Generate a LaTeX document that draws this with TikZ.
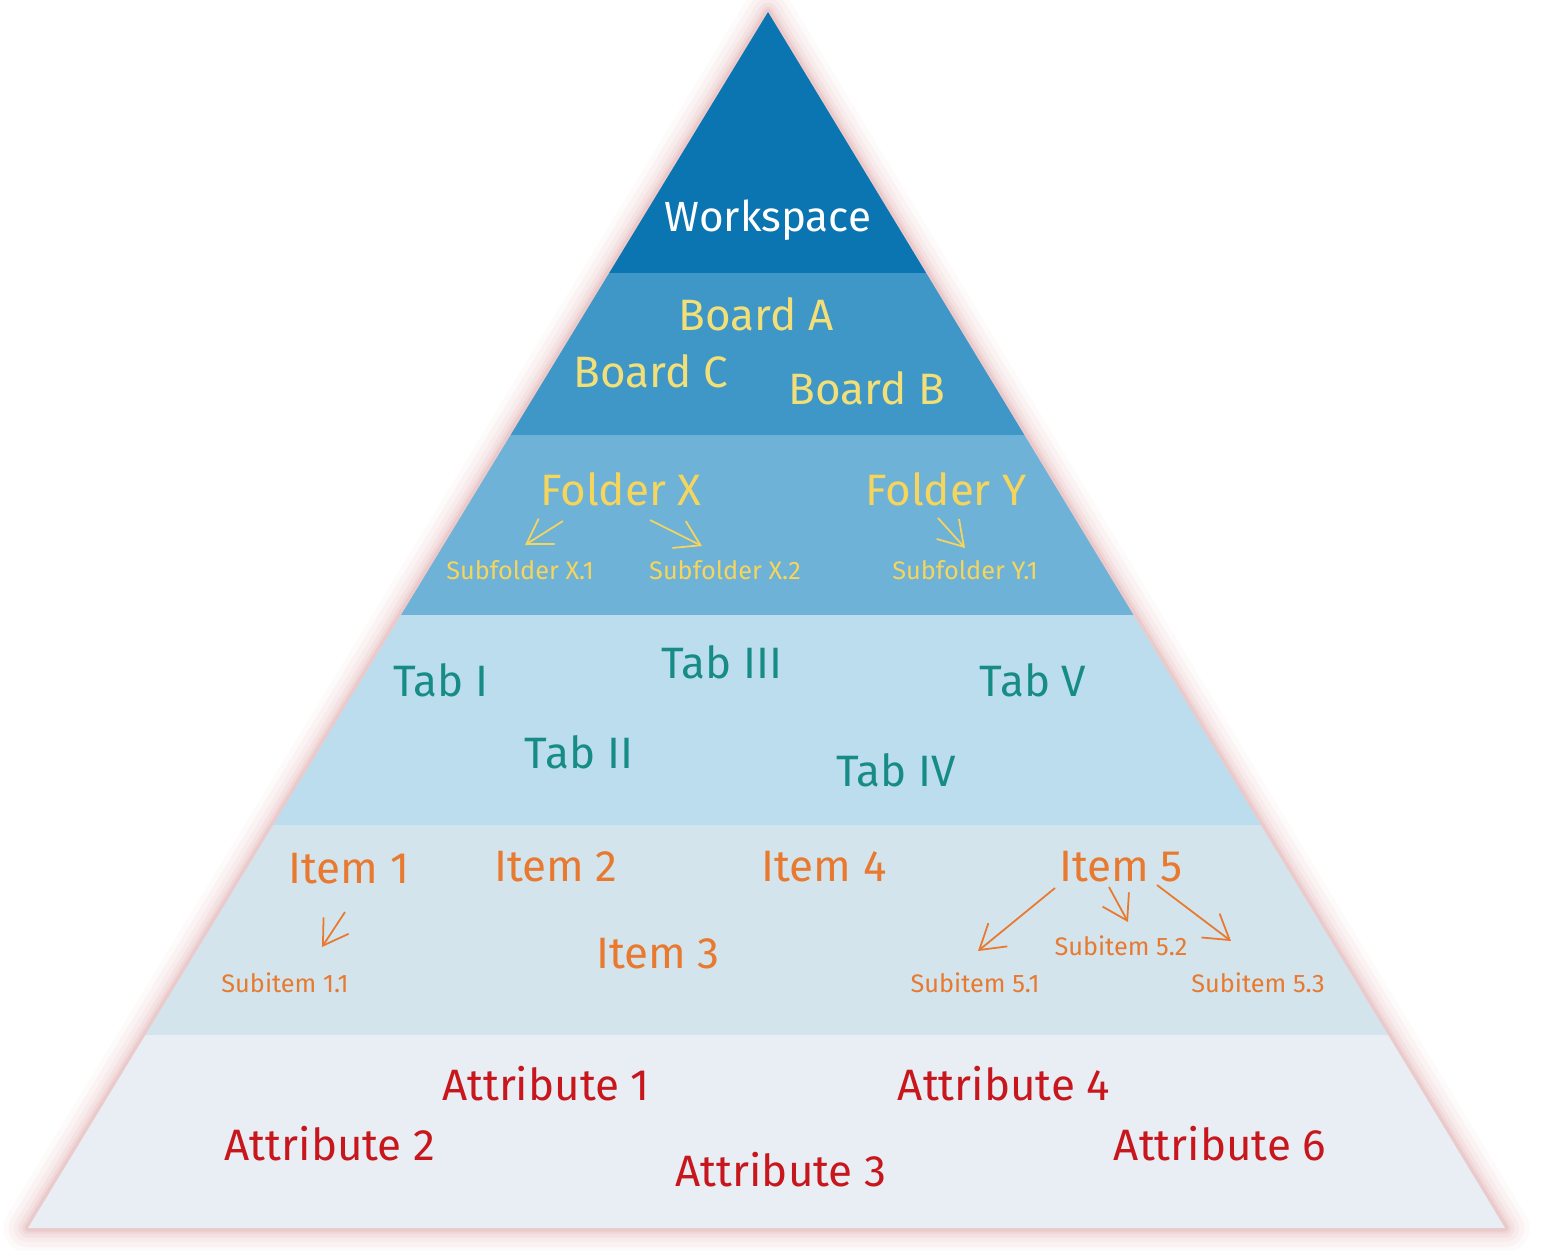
\documentclass[tikz,border=0pt]{standalone}
\usepackage{fontspec}
\setmainfont{Fira Sans}
\usetikzlibrary{arrows.meta}

\definecolor{capaA}{HTML}{0B75B1}
\definecolor{capaB}{HTML}{3F97C8}
\definecolor{capaC}{HTML}{6FB2D7}
\definecolor{capaD}{HTML}{BCDDEE}
\definecolor{capaE}{HTML}{D3E4EC}
\definecolor{capaF}{HTML}{E8EEF3}
\definecolor{amarillo}{HTML}{F3DF78}
\definecolor{amarilloB}{HTML}{F5D55C}
\definecolor{verde}{HTML}{178C86}
\definecolor{naranja}{HTML}{E8792E}
\definecolor{rojo}{HTML}{C8161D}
\definecolor{brillo}{HTML}{C0565A}

\begin{document}
\begin{tikzpicture}[x=0.01cm,y=-0.01cm,
        grande/.style={font=\fontsize{12.5}{14}\selectfont},
        chico/.style={font=\fontsize{7.2}{9}\selectfont},
        flecha/.style={-{Straight Barb[length=2.4mm,width=3mm]},line width=0.5pt}]
        \useasboundingbox (0,0) rectangle (1563,1250);

        % Brillo rojo alrededor de la pirámide
        \foreach \w/\o in {14/0.03,11/0.04,8/0.05,5.5/0.06,3.5/0.08,2/0.1}
            \draw [brillo, line width=\w pt, opacity=\o, line join=round]
                (768,12) -- (1505,1228) -- (28,1228) -- cycle;

        % Capas de la pirámide
        \begin{scope}
            \clip (768,12) -- (1505,1228) -- (28,1228) -- cycle;
            \fill [capaA] (0,0) rectangle (1563,273);
            \fill [capaB] (0,273) rectangle (1563,435);
            \fill [capaC] (0,435) rectangle (1563,615);
            \fill [capaD] (0,615) rectangle (1563,825);
            \fill [capaE] (0,825) rectangle (1563,1035);
            \fill [capaF] (0,1035) rectangle (1563,1228);
        \end{scope}

        % Workspace
        \node [white, font=\fontsize{12}{14}\selectfont] (ws) at (768,220) {Workspace};

        % Boards
        \node [amarillo, grande] (ba) at (756,314) {Board A};
        \node [amarillo, grande] (bc) at (651,371) {Board C};
        \node [amarillo, grande] (bb) at (867,388) {Board B};

        % Folders y subfolders
        \node [amarilloB, grande] (fx) at (621,489) {Folder X};
        \node [amarilloB, grande] (fy) at (946,489) {Folder Y};
        \node [amarilloB, chico] (sx1) at (520,570) {Subfolder X.1};
        \node [amarilloB, chico] (sx2) at (725,570) {Subfolder X.2};
        \node [amarilloB, chico] (sy1) at (965,570) {Subfolder Y.1};
        \draw [amarilloB, flecha] ([shift={(-58,32)}]fx.center) -- ([shift={(5,-25)}]sx1.center);
        \draw [amarilloB, flecha] ([shift={(29,31)}]fx.center) -- ([shift={(-23,-24)}]sx2.center);
        \draw [amarilloB, flecha] ([shift={(-8,29)}]fy.center) -- ([shift={(0,-22)}]sy1.center);

        % Tabs
        \node [verde, grande] (t1) at (441,680) {Tab I};
        \node [verde, grande] (t3) at (722,662) {Tab III};
        \node [verde, grande] (t5) at (1033,680) {Tab V};
        \node [verde, grande] (t2) at (579,752) {Tab II};
        \node [verde, grande] (t4) at (896,770) {Tab IV};

        % Items y subitems
        \node [naranja, grande] (i1) at (349,869) {Item 1};
        \node [naranja, grande] (i2) at (556,867) {Item 2};
        \node [naranja, grande] (i4) at (824,867) {Item 4};
        \node [naranja, grande] (i5) at (1121,867) {Item 5};
        \node [naranja, grande] (i3) at (658,954) {Item 3};
        \node [naranja, chico] (s11) at (285,983) {Subitem 1.1};
        \node [naranja, chico] (s52) at (1121,946) {Subitem 5.2};
        \node [naranja, chico] (s51) at (975,983) {Subitem 5.1};
        \node [naranja, chico] (s53) at (1258,983) {Subitem 5.3};
        \draw [naranja, flecha] ([shift={(-4,43)}]i1.center) -- ([shift={(37,-36)}]s11.center);
        \draw [naranja, flecha] ([shift={(-66,21)}]i5.center) -- ([shift={(3,-32)}]s51.center);
        \draw [naranja, flecha] ([shift={(-12,20)}]i5.center) -- ([shift={(7,-24)}]s52.center);
        \draw [naranja, flecha] ([shift={(36,18)}]i5.center) -- ([shift={(-27,-42)}]s53.center);

        % Attributes
        \node [rojo, grande] (a1) at (546,1084) {Attribute 1};
        \node [rojo, grande] (a4) at (1004,1084) {Attribute 4};
        \node [rojo, grande] (a2) at (330,1144) {Attribute 2};
        \node [rojo, grande] (a3) at (781,1170) {Attribute 3};
        \node [rojo, grande] (a6) at (1220,1144) {Attribute 6};
    \end{tikzpicture}
\end{document}
